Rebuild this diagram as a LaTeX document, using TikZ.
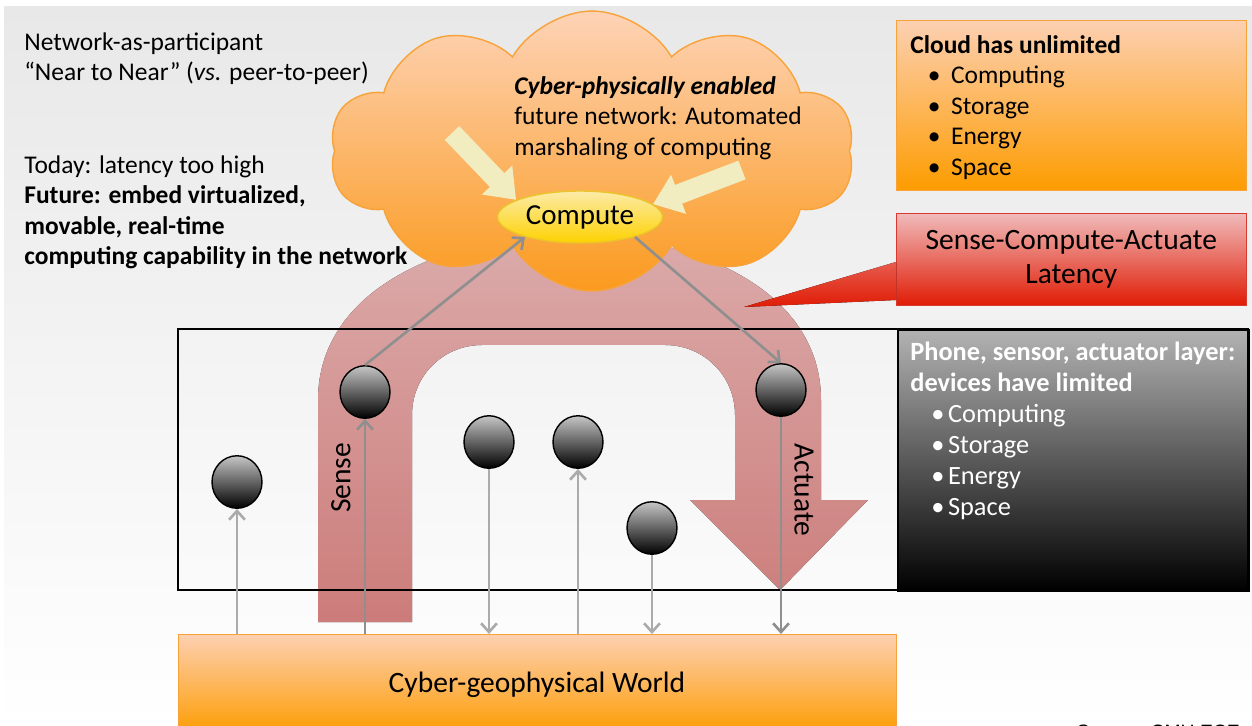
\documentclass[tikz,border=0pt]{standalone}
\usepackage{fontspec}
\setmainfont{Carlito}
\newfontfamily\srcfont{Liberation Sans}
\usepackage{tikz}
\usetikzlibrary{positioning,calc,arrows.meta,shapes.geometric,shapes.symbols}

\definecolor{cloudtop}{HTML}{FDD3B6}
\definecolor{cloudbot}{HTML}{FB9A1E}
\definecolor{cloudline}{HTML}{F7A33A}
\definecolor{boxtop}{HTML}{FDD0B2}
\definecolor{boxbot}{HTML}{FD9C00}
\definecolor{redtop}{HTML}{F0BBBB}
\definecolor{redbot}{HTML}{E01C05}
\definecolor{redline}{HTML}{D93A30}
\definecolor{pinktop}{HTML}{EFBFBF}
\definecolor{pinkbot}{HTML}{DC8683}
\definecolor{yeltop}{HTML}{FCEBA8}
\definecolor{yelbot}{HTML}{FDD200}
\definecolor{yelline}{HTML}{EBC42C}
\definecolor{palearrow}{HTML}{F2EDC0}
\definecolor{wiregray}{HTML}{ABABAB}
\definecolor{wiredark}{HTML}{8F8F8F}

\begin{document}
\begin{tikzpicture}[x=0.02cm, y=-0.02cm, txt/.style={inner sep=0pt, align=left, anchor=north west, font=\fontsize{14.5}{17.4}\selectfont}, sensor/.style={ellipse, draw=black, line width=0.8pt, top color=gray!45, bottom color=black, minimum width=1cm, minimum height=1.05cm, inner sep=0pt}, wire/.style={draw=wiregray, line width=1.5pt, -{Straight Barb[length=5pt,width=9pt]}}, wiredk/.style={wire, draw=wiredark}, fatarrow/.style={draw=palearrow, line width=0.4cm, -{Triangle[length=0.55cm,width=0.8cm]}}, panel/.style={rectangle, anchor=north west, inner sep=0pt}]

\useasboundingbox (0,0) rectangle (1252,726);
\fill[top color=gray!18, bottom color=white] (4,7) rectangle (1252,726);

% sense-compute-actuate loop
\fill[top color=pinktop, bottom color=pinkbot, opacity=.92] (318,622) -- (318,400) .. controls (318,180) and (821,180) .. (821,400) -- (821,500) -- (868,500) -- (780,590) -- (690,500) -- (735,500) -- (735,415) .. controls (735,376) and (704,345) .. (665,345) -- (482,345) .. controls (443,345) and (412,376) .. (412,415) -- (412,622) -- cycle;

\node[panel, draw=black, line width=1.2pt, top color=gray!60, bottom color=black, minimum width=7.02cm, minimum height=5.22cm] (devbox) at (897,329) {};
\draw[line width=1.6pt] (178,329) rectangle (1248,590);

\node[cloud, cloud puffs=10, cloud puff arc=120, aspect=1.9, draw=cloudline, line width=0.8pt, top color=cloudtop, bottom color=cloudbot, minimum width=10.5cm, minimum height=5.6cm] (cloud) at (592,151) {};
\node[ellipse, draw=yelline, line width=0.8pt, top color=yeltop, bottom color=yelbot, minimum width=3.3cm, minimum height=1.04cm, inner sep=0pt, font=\fontsize{16.5}{18}\selectfont] (compute) at (580,217) {Compute};

\coordinate (ya) at (452,133);
\coordinate (yb) at (742,170);
\draw[fatarrow] (ya) -- (compute.165);
\draw[fatarrow] (yb) -- (compute.10);

\node[panel, draw=cloudline, top color=boxtop, bottom color=boxbot, minimum width=7cm, minimum height=3.4cm] (cloudbox) at (896,20) {};
\node[panel, draw=redline, top color=redtop, bottom color=redbot, minimum width=7cm, minimum height=1.84cm] (latency) at (896,213) {};
\coordinate (tip) at (744,307);
\fill[top color=redtop!40!redbot, bottom color=redbot] ($(latency.north west)+(0,49)$) -- (tip) -- ($(latency.north west)+(0,87)$) -- cycle;

\node[panel, draw=cloudline, top color=boxtop, bottom color=boxbot, minimum width=14.36cm, minimum height=2.0cm] (world) at (178,634) {};

\node[sensor] (n1) at (237,482) {};
\node[sensor] (n2) at (365,392) {};
\node[sensor] (n3) at (489,442) {};
\node[sensor] (n4) at (578,442) {};
\node[sensor] (n5) at (652,528) {};
\node[sensor] (n6) at (781,390) {};

\path
  (world.north -| n1) edge[wire] (n1)
  (world.north -| n2) edge[wiredk] (n2)
  (n3) edge[wire] (world.north -| n3)
  (world.north -| n4) edge[wire] (n4)
  (n5) edge[wire] (world.north -| n5)
  (n6) edge[wiredk] (world.north -| n6)
  (n2.north) edge[wiredk] (compute.200)
  (compute.340) edge[wiredk] (n6.north);

\node[txt] (nearnote) at (24,32) {Network-as-participant\\``Near to Near'' (\textit{vs.} peer-to-peer)};
\node[txt] (futurenote) at (24,155) {Today: latency too high\\\textbf{Future: embed virtualized,}\\\textbf{movable, real-time}\\\textbf{computing capability in the network}};
\node[txt] (cloudnote) at (514,76) {\textbf{\textit{Cyber-physically enabled}}\\future network: Automated\\marshaling of computing};
\node[txt] (cloudlist) [below right=0.3cm and 0.28cm of cloudbox.north west] {\textbf{Cloud has unlimited}\\\hspace*{10pt}\textbullet\hspace{6pt}Computing\\\hspace*{10pt}\textbullet\hspace{6pt}Storage\\\hspace*{10pt}\textbullet\hspace{6pt}Energy\\\hspace*{10pt}\textbullet\hspace{6pt}Space};
\node[txt, white, font=\fontsize{15}{17.6}\selectfont] (devlist) [below right=0.26cm and 0.26cm of devbox.north west] {\textbf{Phone, sensor, actuator layer:}\\\textbf{devices have limited}\\\hspace*{12pt}\textbullet\hspace{2pt}Computing\\\hspace*{12pt}\textbullet\hspace{2pt}Storage\\\hspace*{12pt}\textbullet\hspace{2pt}Energy\\\hspace*{12pt}\textbullet\hspace{2pt}Space};
\node[align=center, font=\fontsize{16.8}{19.5}\selectfont] (latencytxt) at (latency.center) {Sense-Compute-Actuate\\Latency};
\node[font=\fontsize{16.8}{18}\selectfont] (worldtxt) at (537,685) {Cyber-geophysical World};
\node[rotate=90, font=\fontsize{16.8}{18}\selectfont] (sense) at (341,478) {Sense};
\node[rotate=-90, font=\fontsize{16.8}{18}\selectfont] (actuate) at (804,490) {Actuate};
\node[anchor=north east, font=\srcfont\fontsize{11}{13}\selectfont] (src) at (1246,719) {Source: CMU ECE};
\end{tikzpicture}
\end{document}
